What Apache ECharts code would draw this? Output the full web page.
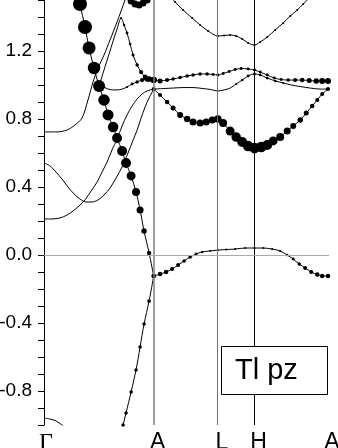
<!DOCTYPE html>
<html><head><meta charset="utf-8">
<script src="https://cdn.jsdelivr.net/npm/echarts@6/dist/echarts.min.js"></script>
<style>html,body{margin:0;padding:0;background:#fff}#c{width:338px;height:448px}</style>
</head><body><div id="c"></div>
<script>
// k-path (Γ-A = 1)
var kTicks = [0, 1, 1.585, 1.919, 2.589];
var kLabels = ['Γ', 'A', 'L', 'H', 'A'];
var yMin = -1.0, yMax = 1.5;

// Γ-A bands
var bigK = [0.310,0.328,0.374,0.411,0.456,0.502,0.547,0.584,0.630,0.666,0.712,0.748,0.794,0.839,0.876,0.912,0.958,1.0];
var bigE = [1.547,1.476,1.341,1.218,1.100,0.994,0.912,0.824,0.753,0.688,0.612,0.541,0.465,0.371,0.265,0.141,0.012,-0.124];
var bigW = [1,1,1,0.93,0.89,0.86,0.82,0.79,0.75,0.71,0.71,0.71,0.64,0.57,0.5,0.39,0.32,0.29];

var lowK = [0.703,0.721,0.748,0.794,0.839,0.876,0.912,0.958,1.0];
var lowE = [-1.041,-1.0,-0.929,-0.806,-0.676,-0.541,-0.406,-0.271,-0.124];
var lowW = [0.25,0.25,0.25,0.25,0.25,0.25,0.25,0.27,0.29];

var aK = [0,0.119,0.210,0.283,0.347,0.401,0.447,0.493,0.547,0.602,0.666,0.739,0.757];
var aE = [0.724,0.724,0.735,0.765,0.806,0.912,1.018,1.100,1.176,1.265,1.371,1.5,1.529];

var bK = [0,0.055,0.109,0.164,0.219,0.274,0.328,0.383,0.438,0.493,0.547,0.602,0.657,0.712,0.766,0.812,0.849,0.885,0.922,0.958,1.0];
var bE = [0.541,0.524,0.488,0.447,0.400,0.359,0.329,0.312,0.312,0.324,0.353,0.394,0.453,0.518,0.600,0.676,0.735,0.806,0.871,0.924,0.976];

var cK = [0,0.073,0.146,0.210,0.265,0.319,0.374,0.429,0.484,0.529,0.575,0.620,0.666,0.712,0.757,0.803,0.849,0.894,0.940,1.0];
var cE = [0.212,0.212,0.218,0.235,0.259,0.288,0.324,0.376,0.429,0.488,0.547,0.618,0.682,0.759,0.824,0.876,0.918,0.947,0.965,0.976];

var dK = [0,0.055,0.109,0.164,0.219];
var dE = [-0.959,-0.965,-0.976,-1.0,-1.029];

var peakK = [0.502,0.547,0.593,0.630,0.666,0.703,0.730,0.757,0.785,0.812,0.849,0.885,0.922,0.958,1.0];
var peakE = [0.994,1.088,1.182,1.259,1.329,1.394,1.353,1.306,1.241,1.176,1.118,1.076,1.047,1.035,1.029];
var peakW = [0,0,0,0,0,0.15,0.18,0.2,0.2,0.22,0.25,0.3,0.35,0.4,0.43];

var dipK = [0.502,0.547,0.584,0.630,0.666,0.712,0.757,0.803,0.849,0.894,0.940,1.0];
var dipE = [1.0,0.988,0.976,0.971,0.971,0.976,0.988,1.006,1.018,1.029,1.035,1.029];
var dipW = [0,0,0,0,0,0,0.15,0.2,0.25,0.3,0.38,0.43];

var topK = [0.757,0.794,0.830,0.867,0.903,0.940,0.976];
var topE = [1.52,1.494,1.476,1.471,1.482,1.5,1.53];
var topW = [0.5,0.5,0.5,0.5,0.5,0.5,0.5];

// A-L-H-A bands
var upK = [1.150,1.195,1.268,1.351,1.423,1.496,1.585,1.642,1.697,1.752,1.807,1.861,1.919,1.971,2.035,2.108,2.181,2.245,2.308,2.363,2.409,2.445];
var upE = [1.524,1.488,1.441,1.394,1.353,1.318,1.288,1.291,1.294,1.288,1.271,1.247,1.235,1.253,1.282,1.324,1.365,1.406,1.441,1.476,1.506,1.529];
var upW = [0.14,0.14,0.14,0.14,0.14,0.14,0.14,0.14,0.14,0.14,0.14,0.14,0.14,0.14,0.14,0.14,0.14,0.14,0.14,0.14,0.14,0.14];

var hiK = [1.0,1.058,1.122,1.177,1.241,1.305,1.359,1.423,1.487,1.542,1.585,1.633,1.688,1.743,1.797,1.861,1.919,1.971,2.035,2.099,2.162,2.226,2.290,2.354,2.418,2.482,2.536,2.589];
var hiE = [1.029,1.024,1.029,1.035,1.044,1.053,1.059,1.065,1.065,1.062,1.059,1.068,1.079,1.091,1.097,1.094,1.088,1.076,1.059,1.041,1.032,1.029,1.029,1.029,1.026,1.024,1.024,1.024];
var hiW = [0.43,0.36,0.29,0.25,0.25,0.25,0.25,0.25,0.25,0.21,0.21,0.21,0.21,0.21,0.21,0.21,0.21,0.21,0.21,0.21,0.21,0.25,0.29,0.32,0.36,0.39,0.43,0.43];

var midK = [1.0,1.086,1.177,1.268,1.359,1.451,1.515,1.585,1.642,1.697,1.752,1.807,1.861,1.919,1.971,2.035,2.108,2.181,2.254,2.336,2.427,2.518,2.589];
var midE = [0.976,0.979,0.982,0.985,0.985,0.979,0.974,0.965,0.971,0.982,1.006,1.029,1.053,1.065,1.059,1.041,1.024,1.012,1.0,0.991,0.982,0.976,0.976];
var midW = [0,0,0,0,0,0,0,0,0,0,0.15,0.18,0.2,0.2,0.2,0.2,0.18,0.15,0,0,0,0,0];

var fatK = [1.0,1.058,1.122,1.177,1.241,1.305,1.359,1.423,1.478,1.533,1.585,1.633,1.697,1.752,1.807,1.861,1.919,1.980,2.035,2.089,2.153,2.217,2.272,2.336,2.391,2.445,2.491,2.536,2.589];
var fatE = [0.976,0.941,0.9,0.865,0.824,0.8,0.782,0.776,0.782,0.794,0.8,0.776,0.729,0.694,0.665,0.641,0.629,0.635,0.647,0.671,0.694,0.729,0.759,0.794,0.835,0.876,0.912,0.947,0.976];
var fatW = [0.29,0.29,0.32,0.36,0.43,0.46,0.5,0.5,0.5,0.5,0.54,0.57,0.64,0.68,0.71,0.75,0.75,0.75,0.71,0.64,0.57,0.5,0.43,0.39,0.36,0.32,0.29,0.29,0.29];

var zeroK = [1.0,1.058,1.113,1.168,1.223,1.277,1.332,1.387,1.442,1.515,1.585,1.661,1.743,1.834,1.919,2.000,2.080,2.153,2.217,2.272,2.327,2.381,2.436,2.491,2.536,2.589];
var zeroE = [-0.124,-0.112,-0.1,-0.082,-0.059,-0.035,-0.012,0.006,0.018,0.024,0.029,0.032,0.035,0.041,0.041,0.041,0.035,0.024,0,-0.024,-0.053,-0.076,-0.1,-0.115,-0.124,-0.124];
var zeroW = [0.32,0.32,0.32,0.29,0.29,0.25,0.25,0.21,0.18,0.14,0.14,0.14,0.14,0.14,0.14,0.14,0.14,0.14,0.18,0.21,0.25,0.29,0.29,0.32,0.32,0.32];

var legendText = 'Tl pz';

var DOT = 14;
var series = [];
function band(k, e, w) {
  series.push({type:'line', data:k.map(function(x,i){return [x,e[i]];}), symbol:'none', smooth:0.3,
    lineStyle:{color:'#000', width:1}, z:3, silent:true});
  if (w) {
    var pts = [];
    k.forEach(function(x,i){ if (w[i] > 0) pts.push([x, e[i], w[i]]); });
    series.push({type:'scatter', data:pts, symbolSize:function(v){return v[2]*DOT;},
      itemStyle:{color:'#000', opacity:1}, z:4, silent:true});
  }
}
band(bigK,bigE,bigW); band(lowK,lowE,lowW); band(aK,aE); band(bK,bE); band(cK,cE); band(dK,dE);
band(peakK,peakE,peakW); band(dipK,dipE,dipW); band(topK,topE,topW);
band(upK,upE,upW); band(hiK,hiE,hiW); band(midK,midE,midW); band(fatK,fatE,fatW); band(zeroK,zeroE,zeroW);

var vlStyles = [null, {color:'#808080', width:1.5, type:'solid'}, {color:'#707070', width:1, type:'solid'}, {color:'#000', width:1, type:'solid'}, {color:'#808080', width:2, type:'solid'}];
var vl = [];
for (var i = 1; i < kTicks.length; i++) vl.push({xAxis:kTicks[i], lineStyle:vlStyles[i]});
vl.push({yAxis:0, lineStyle:{color:'#aaa', width:1, type:'solid'}});
series.push({type:'line', data:[], z:1, silent:true,
  markLine:{symbol:'none', silent:true, label:{show:false}, animation:false, lineStyle:{type:'solid'}, data:vl}});

var chart = echarts.init(document.getElementById('c'), null, {renderer:'canvas'});
chart.setOption({
  animation:false,
  grid:{left:44, right:10, top:0, bottom:23, containLabel:false, outerBoundsMode:'none'},
  xAxis:{type:'value', min:kTicks[0], max:kTicks[kTicks.length-1],
    axisLine:{lineStyle:{color:'#000', width:1}}, axisTick:{show:false}, splitLine:{show:false},
    axisLabel:{customValues:kTicks, margin:6, color:'#000', fontSize:23, fontFamily:'Liberation Sans',
      formatter:function(v){ for (var i=0;i<kTicks.length;i++) if (Math.abs(kTicks[i]-v)<1e-6) return kLabels[i]==='Γ' ? '{g|Γ}' : '{s|' + kLabels[i] + '}'; return ''; },
      rich:{g:{fontFamily:'Liberation Serif', fontSize:24, color:'#000', padding:[0,0,0,4]},
            s:{fontFamily:'Liberation Sans', fontSize:23, color:'#000', padding:[0,0,0,8]}}}},
  yAxis:{type:'value', min:yMin, max:yMax, interval:0.1,
    axisLine:{show:true, lineStyle:{color:'#000', width:1}},
    axisTick:{show:true, length:6, lineStyle:{color:'#000'}}, splitLine:{show:false},
    axisLabel:{interval:0, margin:12, color:'#000', fontSize:19, fontFamily:'Liberation Sans',
      formatter:function(v){ var n=Math.round(v*10); return (n%4===0 && n>-10 && n<15) ? (n/10).toFixed(1) : ''; }}},
  graphic:[
    {type:'rect', shape:{x:221.5, y:346.5, width:106, height:48}, style:{fill:'#fff', stroke:'#000', lineWidth:1}, z:100},
    {type:'text', x:235, y:371, style:{text:legendText, font:'29px "Liberation Sans"', fill:'#000', verticalAlign:'middle'}, z:101}
  ],
  series:series
});
</script></body></html>
